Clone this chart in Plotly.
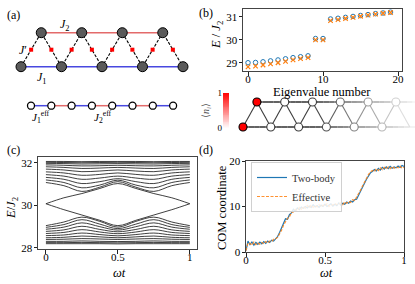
import plotly.graph_objects as go

FONT = "Liberation Serif"
C0 = "#1f77b4"
C1 = "#ff7f0e"
W, H = 415, 284

# ---------------- data ----------------
bottom_sites = [0, 1, 2, 3, 4]
top_sites = [0.5, 1.5, 2.5, 3.5]
chain_sites = [0, 1, 2, 3, 4, 5, 6, 7]
chain_bonds = ["J1", "J2", "J1", "J2", "J1", "J2", "J1"]

eig_index = list(range(20))
eig_two_body = [29.00, 29.01, 29.04, 29.08, 29.12, 29.17, 29.22, 29.26, 29.30, 30.05,
                30.05, 30.90, 30.93, 30.97, 31.01, 31.05, 31.09, 31.13, 31.16, 31.20]
eig_effective = [28.82, 28.85, 28.90, 28.95, 29.00, 29.06, 29.12, 29.18, 29.22, 29.99,
                 29.99, 30.83, 30.87, 30.92, 30.97, 31.02, 31.07, 31.11, 31.15, 31.18]
occ_bottom = [1, 0, 0, 0, 0, 0]
occ_top = [1, 0, 0, 0, 0, 0]
occ_bottom_x = [0, 1, 2, 3, 4, 5]
occ_top_x = [0.5, 1.5, 2.5, 3.5, 4.5, 5.5]

omega_t = [0, 0.125, 0.25, 0.375, 0.5, 0.625, 0.75, 0.875, 1.0]
spectrum_upper = [
    [32.07, 32.07, 32.06, 32.07, 32.07, 32.07, 32.06, 32.07, 32.07],
    [32.03, 32.02, 32.01, 32.02, 32.03, 32.02, 32.01, 32.02, 32.03],
    [31.98, 31.97, 31.95, 31.96, 31.97, 31.96, 31.95, 31.97, 31.98],
    [31.91, 31.89, 31.86, 31.87, 31.89, 31.87, 31.86, 31.89, 31.91],
    [31.82, 31.79, 31.74, 31.76, 31.79, 31.76, 31.74, 31.79, 31.82],
    [31.71, 31.67, 31.59, 31.62, 31.67, 31.62, 31.59, 31.67, 31.71],
    [31.58, 31.53, 31.42, 31.46, 31.53, 31.46, 31.42, 31.53, 31.58],
    [31.45, 31.38, 31.23, 31.29, 31.38, 31.29, 31.23, 31.38, 31.45],
    [31.32, 31.23, 31.03, 31.12, 31.26, 31.12, 31.03, 31.23, 31.32],
    [31.20, 31.08, 30.83, 30.96, 31.19, 30.96, 30.83, 31.08, 31.20],
    [31.08, 30.93, 30.66, 30.86, 31.12, 30.86, 30.66, 30.93, 31.08],
]
spectrum_edge = [
    [30.08, 30.36, 30.56, 30.80, 31.03, 30.80, 30.56, 30.36, 30.08],
    [30.08, 29.80, 29.55, 29.30, 29.05, 29.30, 29.55, 29.80, 30.08],
]
spectrum_lower = [
    [29.05, 29.22, 29.45, 29.25, 28.98, 29.25, 29.45, 29.22, 29.05],
    [28.97, 29.10, 29.33, 29.12, 28.91, 29.12, 29.33, 29.10, 28.97],
    [28.88, 28.98, 29.18, 29.00, 28.84, 29.00, 29.18, 28.98, 28.88],
    [28.78, 28.85, 29.02, 28.87, 28.76, 28.87, 29.02, 28.85, 28.78],
    [28.68, 28.73, 28.86, 28.75, 28.67, 28.75, 28.86, 28.73, 28.68],
    [28.58, 28.61, 28.70, 28.63, 28.57, 28.63, 28.70, 28.61, 28.58],
    [28.48, 28.50, 28.56, 28.52, 28.48, 28.52, 28.56, 28.50, 28.48],
    [28.40, 28.41, 28.44, 28.42, 28.40, 28.42, 28.44, 28.41, 28.40],
    [28.31, 28.31, 28.33, 28.31, 28.30, 28.31, 28.33, 28.31, 28.31],
    [28.25, 28.25, 28.26, 28.25, 28.24, 28.25, 28.26, 28.25, 28.25],
    [28.20, 28.20, 28.20, 28.20, 28.19, 28.20, 28.20, 28.20, 28.20],
]

t_com = [round(i / 80, 4) for i in range(81)]
com_two_body = [0.3, 2.4, 1.6, 2.2, 1.5, 2.1, 1.7, 2.2, 1.8, 2.3,
                1.9, 2.4, 2.1, 2.6, 2.4, 3.0, 3.4, 4.3, 5.2, 6.3,
                7.3, 7.2, 8.2, 8.6, 9.4, 9.0, 9.7, 9.3, 9.9, 9.6,
                10.0, 9.7, 10.1, 9.8, 10.4, 9.9, 10.2, 9.8, 10.3, 10.0,
                10.5, 10.0, 10.3, 10.6, 10.1, 10.5, 10.2, 10.8, 10.3, 10.7,
                10.5, 11.0, 10.7, 11.2, 11.0, 11.5, 11.6, 12.4, 13.2, 14.2,
                15.1, 16.0, 16.8, 17.4, 17.7, 18.1, 17.8, 18.4, 18.0, 18.6,
                18.2, 18.7, 18.3, 18.8, 18.4, 18.7, 18.5, 18.9, 18.6, 19.0,
                18.8]
com_effective = [0.3, 2.0, 1.9, 1.5, 2.2, 1.6, 2.0, 1.7, 2.1, 1.8,
                 2.3, 2.0, 2.4, 2.3, 2.8, 2.9, 3.2, 3.9, 4.8, 5.9,
                 6.8, 7.4, 7.7, 8.7, 8.8, 9.4, 9.1, 9.8, 9.4, 10.0,
                 9.6, 10.2, 9.7, 10.3, 9.8, 10.2, 9.9, 10.4, 9.9, 10.3,
                 10.1, 10.6, 10.0, 10.4, 10.3, 10.7, 10.4, 10.6, 10.8, 10.4,
                 11.0, 10.7, 11.1, 10.9, 11.5, 11.3, 12.0, 12.7, 13.6, 14.5,
                 15.4, 16.4, 17.0, 17.6, 17.9, 17.7, 18.3, 17.9, 18.5, 18.1,
                 18.6, 18.2, 18.7, 18.3, 18.8, 18.4, 18.7, 18.5, 18.9, 18.4,
                 18.6]

def px_x(p):
    return p / W

def px_y(p):
    return 1 - p / H

fig = go.Figure()

def add(tr, xa, ya):
    tr.update(xaxis=xa, yaxis=ya, showlegend=False)
    fig.add_trace(tr)

# ---------------- (a) ----------------
RED_LINE = "#e36a6a"
BLUE_LINE = "#4848e0"
add(go.Scatter(x=[top_sites[0], top_sites[-1]], y=[1, 1], mode="lines",
               line=dict(color=RED_LINE, width=1.5)), "x4", "y4")
add(go.Scatter(x=[bottom_sites[0], bottom_sites[-1]], y=[0, 0], mode="lines",
               line=dict(color=BLUE_LINE, width=1.5)), "x4", "y4")
zx, zy = [], []
for i, b in enumerate(bottom_sites):
    zx.append(b); zy.append(0)
    if i < len(top_sites):
        zx.append(top_sites[i]); zy.append(1)
add(go.Scatter(x=zx, y=zy, mode="lines",
               line=dict(color="black", width=1.1, dash="3px,1.5px")), "x4", "y4")
mx = [(zx[k] + zx[k + 1]) / 2 for k in range(len(zx) - 1)]
my = [(zy[k] + zy[k + 1]) / 2 for k in range(len(zy) - 1)]
add(go.Scatter(x=mx, y=my, mode="markers",
               marker=dict(symbol="square", size=4, color="#ff0000", line=dict(width=0))), "x4", "y4")
add(go.Scatter(x=bottom_sites + top_sites, y=[0] * len(bottom_sites) + [1] * len(top_sites),
               mode="markers",
               marker=dict(size=10, color="#5a5a5a", line=dict(color="black", width=1))), "x4", "y4")

for k, bond in enumerate(chain_bonds):
    add(go.Scatter(x=[chain_sites[k], chain_sites[k + 1]], y=[0, 0], mode="lines",
                   line=dict(color=BLUE_LINE if bond == "J1" else RED_LINE, width=1.5)), "x5", "y5")
add(go.Scatter(x=chain_sites, y=[0] * len(chain_sites), mode="markers",
               marker=dict(size=7, color="white", line=dict(color="black", width=1.3))), "x5", "y5")

# ---------------- (b) ----------------
add(go.Scatter(x=eig_index, y=eig_two_body, mode="markers",
               marker=dict(symbol="circle-open", size=4.5, color=C0, line=dict(width=1))), "x3", "y3")
add(go.Scatter(x=eig_index, y=eig_effective, mode="markers",
               marker=dict(symbol="x-thin-open", size=4.5, color=C1, line=dict(width=1.2, color=C1))), "x3", "y3")

def fade(x):
    return 1.0 if x < 2.6 else max(0.0, 1 - (x - 2.6) / 3.8)

def gray(a):
    v = int(round(60 + (255 - 60) * (1 - a)))
    return f"rgb({v},{v},{v})"

step = 0.2
n = int(6.4 / step)
for yy, x0 in ((0, 0.0), (1, 0.5)):
    for k in range(n):
        xa0 = x0 + k * step
        xa1 = xa0 + step
        if xa0 >= 6.4:
            break
        add(go.Scatter(x=[xa0, xa1], y=[yy, yy], mode="lines",
                       line=dict(color=gray(fade((xa0 + xa1) / 2)), width=1.6)), "x6", "y6")
lat = sorted([(x, 0) for x in occ_bottom_x] + [(x, 1) for x in occ_top_x] + [(6, 0)])
for k in range(len(lat) - 1):
    (xa, ya), (xb, yb) = lat[k], lat[k + 1]
    add(go.Scatter(x=[xa, xb], y=[ya, yb], mode="lines",
                   line=dict(color=gray(fade((xa + xb) / 2)), width=1.1)), "x6", "y6")
site_x = occ_bottom_x + occ_top_x
site_y = [0] * len(occ_bottom_x) + [1] * len(occ_top_x)
site_n = occ_bottom + occ_top
outline = ["black" if nn > 0.5 else gray(fade(x)) for x, nn in zip(site_x, site_n)]
REDSCALE = [[0, "#ffffff"], [1, "#ff0000"]]
add(go.Scatter(x=site_x, y=site_y, mode="markers",
               marker=dict(size=8, color=site_n, colorscale=REDSCALE, cmin=0, cmax=1,
                           line=dict(color=outline, width=1.1))), "x6", "y6")

cb_levels = [i / 40 for i in range(41)]
add(go.Heatmap(z=[[v] for v in cb_levels], x=[0], y=cb_levels, colorscale=REDSCALE,
               zmin=0, zmax=1, showscale=False), "x7", "y7")

# ---------------- (c) ----------------
for line in spectrum_upper + spectrum_edge + spectrum_lower:
    add(go.Scatter(x=omega_t, y=line, mode="lines",
                   line=dict(color="#2a2a2a", width=0.9, shape="spline", smoothing=1.0)), "x", "y")

# ---------------- (d) ----------------
fig.add_trace(go.Scatter(x=t_com, y=com_two_body, mode="lines", name="Two-body",
                         line=dict(color=C0, width=1.2), xaxis="x2", yaxis="y2"))
fig.add_trace(go.Scatter(x=t_com, y=com_effective, mode="lines", name="Effective",
                         line=dict(color=C1, width=1.2, dash="3px,1.5px"), opacity=0.85,
                         xaxis="x2", yaxis="y2"))

# ---------------- axes ----------------
tickfont = dict(family=FONT, size=11, color="black")
frame = dict(showline=True, mirror=True, linecolor="#444", linewidth=1, ticks="outside",
             ticklen=3.5, tickwidth=0.8, tickcolor="#222", showgrid=False, zeroline=False,
             tickfont=tickfont, automargin=False)
xframe = dict(frame, ticklabelstandoff=-6)
yframe = dict(frame, ticklabelstandoff=-1)
hidden = dict(visible=False, showgrid=False, zeroline=False)

fig.update_layout(
    width=W, height=H, margin=dict(l=0, r=0, t=0, b=0, autoexpand=False),
    paper_bgcolor="white", plot_bgcolor="rgba(0,0,0,0)",
    font=dict(family=FONT, size=11, color="black"),
    xaxis=dict(domain=[px_x(38), px_x(197)], range=[-0.055, 1.05], tickvals=[0, 0.5, 1],
               ticktext=["0", "0.5", "1"], anchor="y", **xframe),
    yaxis=dict(domain=[px_y(249), px_y(157)], range=[27.95, 32.28], tickvals=[28, 30, 32],
               anchor="x", **yframe),
    xaxis2=dict(domain=[px_x(246), px_x(404)], range=[0, 1], tickvals=[0, 0.5, 1],
                ticktext=["0", "0.5", "1"], anchor="y2", **xframe),
    yaxis2=dict(domain=[px_y(252), px_y(161)], range=[0, 20], tickvals=[0, 10, 20],
                anchor="x2", **yframe),
    xaxis3=dict(domain=[px_x(243), px_x(402)], range=[-0.67, 20.53], tickvals=[0, 10, 20],
                anchor="y3", **xframe),
    yaxis3=dict(domain=[px_y(71), px_y(9.3)], range=[28.64, 31.32], tickvals=[29, 30, 31],
                anchor="x3", **yframe),
    xaxis4=dict(domain=[0, px_x(205)], range=[-21 / 40.5, (205 - 21) / 40.5], anchor="y4", **hidden),
    yaxis4=dict(domain=[px_y(90), px_y(10)], range=[(66.7 - 90) / 34, (66.7 - 10) / 34],
                anchor="x4", **hidden),
    xaxis5=dict(domain=[0, px_x(205)], range=[-31 / 20.3, (205 - 31) / 20.3], anchor="y5", **hidden),
    yaxis5=dict(domain=[px_y(125), px_y(95)], range=[(105.7 - 125) / 10, (105.7 - 95) / 10],
                anchor="x5", **hidden),
    xaxis6=dict(domain=[px_x(232), 1], range=[(232 - 243) / 27.8, (415 - 243) / 27.8],
                anchor="y6", **hidden),
    yaxis6=dict(domain=[px_y(137), px_y(95)], range=[(127 - 137) / 25, (127 - 95) / 25],
                anchor="x6", **hidden),
    xaxis7=dict(domain=[px_x(223), px_x(229)], range=[-0.5, 0.5], anchor="y7", **hidden),
    yaxis7=dict(domain=[px_y(128), px_y(93)], range=[0, 1], anchor="x7", tickvals=[0, 1],
                ticks="", showgrid=False, zeroline=False, showline=False, automargin=False,
                tickfont=dict(family=FONT, size=9, color="black")),
    legend=dict(x=px_x(251), y=px_y(162), xanchor="left", yanchor="top",
                bgcolor="rgba(255,255,255,0.85)", bordercolor="#d0d0d0", borderwidth=1,
                font=dict(family=FONT, size=10.5, color="#333"), itemwidth=30,
                tracegroupgap=0),
)

# ---------------- text ----------------
def ann(text, x, y, size=12, angle=0, xref="paper", yref="paper", color="black"):
    fig.add_annotation(text=text, x=x, y=y, xref=xref, yref=yref, showarrow=False,
                       textangle=angle, font=dict(family=FONT, size=size, color=color),
                       xanchor="center", yanchor="middle")

ann("(a)", px_x(13), px_y(15), 12)
ann("(b)", px_x(206), px_y(13), 12)
ann("(c)", px_x(13), px_y(150), 12)
ann("(d)", px_x(206), px_y(150), 12)

ann("<i>J</i><sub>2</sub>", 1.09, 1.23, 12, xref="x4", yref="y4")
ann("<i>J</i>′", 0.05, 0.49, 12, xref="x4", yref="y4")
ann("<i>J</i><sub>1</sub>", 0.52, -0.32, 12, xref="x4", yref="y4")
ann("<i>J</i><sub>1</sub><sup>eff</sup>", 0.5, -1.1, 11, xref="x5", yref="y5")
ann("<i>J</i><sub>2</sub><sup>eff</sup>", 3.55, -1.1, 11, xref="x5", yref="y5")

ann("<i>E</i> / <i>J</i><sub>2</sub>", px_x(217), px_y(35), 12.5, angle=-90)
ann("Eigenvalue number", px_x(322), px_y(92), 12.5)
ann("⟨<i>n<sub>i</sub></i>⟩", px_x(206), px_y(111), 10, angle=-90, color="#555")

ann("<i>E</i>/<i>J</i><sub>2</sub>", px_x(12), px_y(208), 12.5, angle=-90)
ann("<i>ωt</i>", px_x(119), px_y(273), 12.5)
ann("COM coordinate", px_x(222), px_y(208), 12.5, angle=-90)
ann("<i>ωt</i>", px_x(326), px_y(273), 12.5)

fig.write_html("out.html", config={"displayModeBar": False},
               post_script="document.body.style.margin='0';document.body.style.overflow='hidden';")
